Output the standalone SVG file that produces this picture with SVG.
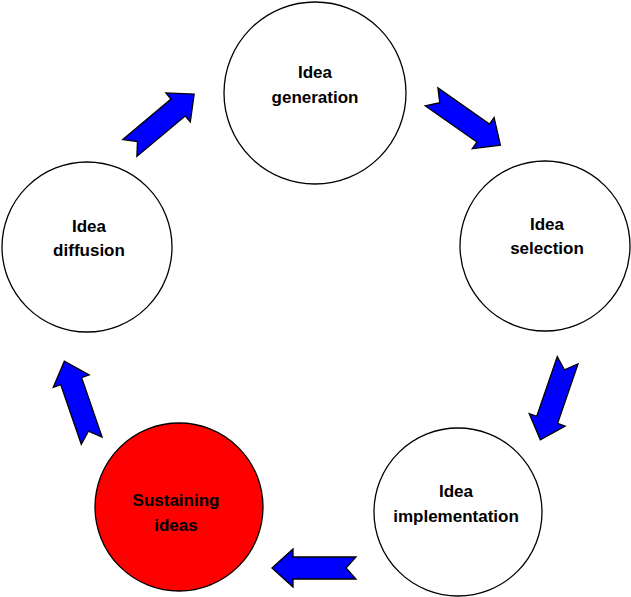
<svg xmlns="http://www.w3.org/2000/svg" width="631" height="597" viewBox="0 0 631 597">
<style>
circle{fill:#fff;stroke:#000;stroke-width:1.3}
.red{fill:#f00}
text{font-family:"Liberation Sans",Arial,sans-serif;font-weight:bold;font-size:17px;text-anchor:middle}
.arr{fill:#00f;stroke:#000;stroke-width:1.3;stroke-linejoin:miter}
</style>
<defs><path id="a" class="arr" d="M-42,-11 L21,-11 L21,-19 L42,0 L21,19 L21,11 L-42,11 L-32,0 Z"/></defs>
<g id="connectors">
<use href="#a" transform="translate(162,121) rotate(-40)"/>
<use href="#a" transform="translate(466,121) rotate(35)"/>
<use href="#a" transform="translate(554,400) rotate(109)"/>
<use href="#a" transform="translate(314,568) rotate(180)"/>
<use href="#a" transform="translate(78,401) rotate(-109)"/>
</g>
<g id="gen"><circle cx="315" cy="93" r="91"/><text x="315" y="78">Idea</text><text x="315" y="103">generation</text></g>
<g id="sel"><circle cx="545" cy="246" r="85"/><text x="547" y="230">Idea</text><text x="547" y="254">selection</text></g>
<g id="impl"><circle cx="458" cy="512" r="84"/><text x="456" y="497">Idea</text><text x="456" y="522">implementation</text></g>
<g id="sust"><circle class="red" cx="179" cy="507" r="84"/><text x="176" y="506">Sustaining</text><text x="176" y="531">ideas</text></g>
<g id="diff"><circle cx="87" cy="247" r="85"/><text x="89" y="232">Idea</text><text x="89" y="256">diffusion</text></g>
</svg>
